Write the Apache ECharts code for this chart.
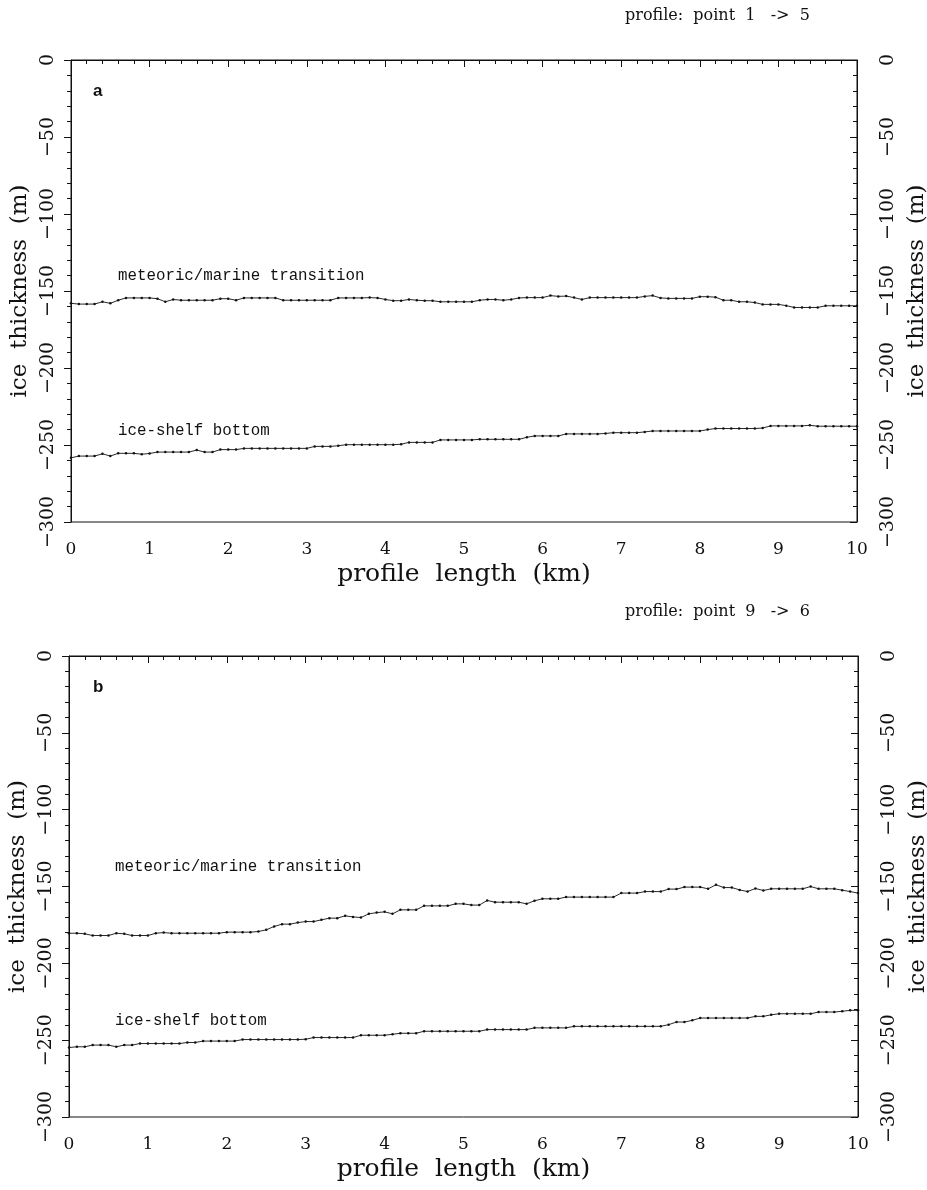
<!DOCTYPE html>
<html>
<head>
<meta charset="utf-8">
<script src="https://cdn.jsdelivr.net/npm/echarts@6/dist/echarts.min.js"></script>
<style>
  html, body { margin: 0; padding: 0; background: #fff; }
  #chart { width: 927px; height: 1190px; }
</style>
</head>
<body>
<div id="chart"></div>
<script>
// sample spacing along the profile (km)
const STEP_KM = 0.1;

const xTicks = [0, 1, 2, 3, 4, 5, 6, 7, 8, 9, 10];
const yTicks = [0, -50, -100, -150, -200, -250, -300];

// panel a: profile point 1 -> 5
const meteoricA = [
  -158, -158.5, -158.5, -158.5, -157, -158, -156, -154.5, -154.5, -154.5,
  -154.5, -155, -157, -155.5, -156, -156, -156, -156, -156, -155,
  -155, -156, -154.5, -154.5, -154.5, -154.5, -154.5, -156, -156, -156,
  -156, -156, -156, -156, -154.5, -154.5, -154.5, -154.5, -154.3, -154.5,
  -155.5, -156.3, -156.3, -155.5, -156, -156.3, -156.3, -157, -157, -157,
  -157, -157, -156, -155.5, -155.5, -156, -155.5, -154.5, -154.3, -154.3,
  -154.3, -153, -153.5, -153.3, -154.3, -155.5, -154.3, -154.3, -154.3, -154.3,
  -154.3, -154.3, -154.3, -153.5, -153, -154.5, -154.8, -154.8, -154.8, -154.8,
  -153.7, -153.7, -154, -156, -156, -157, -157, -157.5, -158.7, -158.7,
  -158.7, -159.5, -160.7, -160.7, -160.7, -160.7, -159.6, -159.6, -159.6, -159.6,
  -159.6
];
const bottomA = [
  -258.3, -257.2, -257.2, -257.2, -255.7, -257.2, -255.4, -255.4, -255.4, -256,
  -255.5, -254.6, -254.6, -254.6, -254.6, -254.6, -253.3, -254.6, -254.6, -253,
  -253, -253, -252.2, -252.2, -252.2, -252.2, -252.2, -252.2, -252.2, -252.2,
  -252.2, -250.9, -250.9, -250.9, -250.5, -249.8, -249.8, -249.8, -249.8, -249.8,
  -249.8, -249.8, -249.5, -248.3, -248.3, -248.3, -248.3, -246.7, -246.7, -246.7,
  -246.7, -246.7, -246.3, -246.3, -246.3, -246.3, -246.3, -246.3, -245, -244.1,
  -244.1, -244.1, -244.1, -242.8, -242.8, -242.8, -242.8, -242.8, -242.5, -242,
  -242, -242, -242, -241.5, -240.9, -240.9, -240.9, -240.9, -240.9, -240.9,
  -240.9, -240, -239.3, -239.3, -239.3, -239.3, -239.3, -239.3, -239, -237.6,
  -237.6, -237.6, -237.6, -237.6, -237.2, -237.8, -237.8, -237.8, -237.8, -237.8,
  -237.8
];

// panel b: profile point 9 -> 6
const meteoricB = [
  -180.4, -180.4, -180.8, -181.9, -181.9, -181.9, -180.4, -180.8, -181.9, -181.9,
  -181.9, -180.4, -180, -180.4, -180.4, -180.4, -180.4, -180.4, -180.4, -180.4,
  -179.7, -179.7, -179.7, -179.7, -179.3, -178.2, -176, -174.5, -174.5, -173.5,
  -172.8, -172.8, -171.7, -170.6, -170.6, -169.1, -169.8, -170.2, -167.8, -167,
  -166.5, -167.8, -165.2, -165.2, -165.2, -162.6, -162.6, -162.6, -162.6, -161.3,
  -161.3, -162.1, -162.1, -159.1, -160.2, -160.2, -160.2, -160.2, -161.3, -159.3,
  -158, -158, -158, -156.9, -156.9, -156.9, -156.9, -156.9, -156.9, -156.9,
  -154.3, -154.3, -154.3, -153.3, -153.3, -153.3, -151.7, -151.7, -150.4, -150.4,
  -150.4, -151.5, -148.9, -150.7, -150.7, -152.2, -153.3, -151.3, -152.6, -151.5,
  -151.5, -151.5, -151.5, -151.5, -150, -151.5, -151.5, -151.5, -152.4, -153.3,
  -154.3
];
const bottomB = [
  -254.8, -254.3, -254.3, -253.2, -253.2, -253.2, -254.3, -253.2, -253.2, -252.2,
  -252.2, -252.2, -252.2, -252.2, -252.2, -251.5, -251.5, -250.6, -250.6, -250.6,
  -250.6, -250.6, -249.6, -249.6, -249.6, -249.6, -249.6, -249.6, -249.6, -249.6,
  -249.4, -248.3, -248.3, -248.3, -248.3, -248.3, -248.3, -246.8, -246.8, -246.8,
  -246.8, -246.2, -245.5, -245.5, -245.5, -244.2, -244.2, -244.2, -244.2, -244.2,
  -244.2, -244.2, -244.2, -243.1, -243.1, -243.1, -243.1, -243.1, -243.1, -242,
  -242, -242, -242, -242, -241, -241, -241, -241, -241, -241,
  -241, -241, -241, -241, -241, -241, -239.9, -238.2, -238.2, -237.1,
  -235.6, -235.6, -235.6, -235.6, -235.6, -235.6, -235.6, -234.5, -234.5, -233.5,
  -232.8, -232.8, -232.8, -232.8, -232.8, -231.7, -231.7, -231.7, -231.2, -230.6,
  -230.6
];

const SERIF = "'DejaVu Serif', 'Liberation Serif', serif";
const MONO = "'Liberation Mono', 'DejaVu Sans Mono', monospace";
const INK = "#111";

function pairs(vals) {
  return vals.map((v, i) => [Math.round(i * STEP_KM * 10) / 10, v]);
}

function minus(v) {
  return String(v).replace("-", "\u2212");
}

function xAxisFor(gridIndex) {
  return {
    type: "value",
    gridIndex,
    min: xTicks[0],
    max: xTicks[xTicks.length - 1],
    interval: 1,
    name: "profile  length  (km)",
    nameLocation: "middle",
    nameGap: 40,
    nameTextStyle: { fontFamily: SERIF, fontSize: 25, color: INK },
    axisLine: { lineStyle: { color: INK, width: 1 } },
    axisTick: { inside: false, length: 7, lineStyle: { color: INK } },
    minorTick: { show: true, splitNumber: 5, length: 4, lineStyle: { color: INK } },
    splitLine: { show: false },
    axisLabel: { fontFamily: SERIF, fontSize: 17, color: INK, margin: 19 }
  };
}

function yAxisFor(gridIndex, position) {
  const right = position === "right";
  return {
    type: "value",
    gridIndex,
    position,
    min: yTicks[yTicks.length - 1],
    max: yTicks[0],
    interval: 50,
    name: "ice  thickness  (m)",
    nameLocation: "middle",
    nameRotate: 90,
    nameGap: right ? 40 : 38,
    nameTextStyle: { fontFamily: SERIF, fontSize: 23, color: INK },
    axisLine: { show: true, onZero: false, lineStyle: { color: INK, width: 1 } },
    axisTick: { inside: right, length: 7, lineStyle: { color: INK } },
    minorTick: { show: true, splitNumber: 5, length: 4, lineStyle: { color: INK } },
    splitLine: { show: false },
    axisLabel: {
      rotate: 90,
      fontFamily: SERIF,
      fontSize: 19,
      color: INK,
      margin: right ? 22 : 13,
      formatter: minus
    }
  };
}

function lineSeries(name, vals, idx) {
  return {
    name,
    type: "line",
    xAxisIndex: idx,
    yAxisIndex: idx * 2,
    data: pairs(vals),
    symbol: "circle",
    symbolSize: 2.5,
    showSymbol: true,
    itemStyle: { color: INK },
    lineStyle: { color: INK, width: 0.9 },
    animation: false
  };
}

const chart = echarts.init(document.getElementById("chart"));

chart.setOption({
  backgroundColor: "#fff",
  animation: false,
  grid: [
    { left: 71, right: 70, top: 60, height: 462, show: true, borderColor: INK, borderWidth: 1, outerBoundsMode: "none" },
    { left: 69, right: 69, top: 656, height: 461, show: true, borderColor: INK, borderWidth: 1, outerBoundsMode: "none" }
  ],
  xAxis: [xAxisFor(0), xAxisFor(1)],
  yAxis: [yAxisFor(0, "left"), yAxisFor(0, "right"), yAxisFor(1, "left"), yAxisFor(1, "right")],
  series: [
    lineSeries("meteoric/marine transition a", meteoricA, 0),
    lineSeries("ice-shelf bottom a", bottomA, 0),
    lineSeries("meteoric/marine transition b", meteoricB, 1),
    lineSeries("ice-shelf bottom b", bottomB, 1)
  ],
  graphic: [
    { type: "text", left: 625, top: 8, style: { text: "profile:  point  1   ->  5", font: "16px " + SERIF, fill: INK } },
    { type: "text", left: 625, top: 604, style: { text: "profile:  point  9   ->  6", font: "16px " + SERIF, fill: INK } },
    { type: "text", left: 93, top: 83, style: { text: "a", font: "bold 17px 'Liberation Sans', Arial, sans-serif", fill: INK } },
    { type: "text", left: 93, top: 679, style: { text: "b", font: "bold 17px 'Liberation Sans', Arial, sans-serif", fill: INK } },
    { type: "text", left: 118, top: 268, style: { text: "meteoric/marine transition", font: "15.8px " + MONO, fill: INK } },
    { type: "text", left: 118, top: 423, style: { text: "ice-shelf bottom", font: "15.8px " + MONO, fill: INK } },
    { type: "text", left: 115, top: 859, style: { text: "meteoric/marine transition", font: "15.8px " + MONO, fill: INK } },
    { type: "text", left: 115, top: 1013, style: { text: "ice-shelf bottom", font: "15.8px " + MONO, fill: INK } }
  ]
});
</script>
</body>
</html>
